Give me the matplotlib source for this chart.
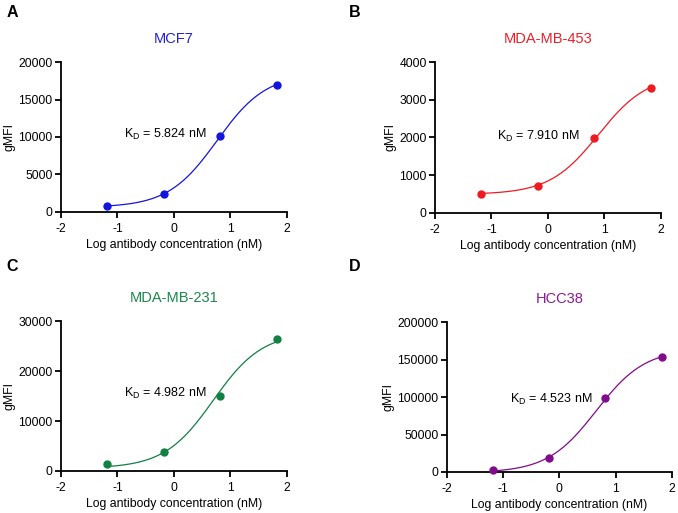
import numpy as np
import matplotlib
matplotlib.use("Agg")
import matplotlib.pyplot as plt

plt.rcParams['font.family'] = ['Liberation Sans', 'DejaVu Sans']
plt.rcParams['mathtext.default'] = 'regular'

# Data
log_conc = [-1.18, -0.18, 0.82, 1.82]
cell_lines = ["MCF7", "MDA-MB-453", "MDA-MB-231", "HCC38"]
panel_letters = ["A", "B", "C", "D"]
mcf7 = [800, 2400, 10100, 17000]
mdamb453 = [510, 720, 1980, 3310]
mdamb231 = [1300, 3700, 15000, 26500]
hcc38 = [2500, 18000, 99000, 153000]
kd_values = [5.824, 7.910, 4.982, 4.523]
y_max = [20000, 4000, 30000, 200000]
y_step = [5000, 1000, 10000, 50000]
x_ticks = [-2, -1, 0, 1, 2]

series = [mcf7, mdamb453, mdamb231, hcc38]
colors = ["#1414dc", "#ee1a22", "#118043", "#820a8c"]
title_colors = ["#2222d0", "#e8202a", "#1a8a4a", "#8a1a95"]

# axes rectangles [left, bottom, width, height]
rects = [
    [0.090, 0.587, 0.333, 0.292],
    [0.6416, 0.585, 0.333, 0.294],
    [0.090, 0.082, 0.333, 0.292],
    [0.659, 0.080, 0.332, 0.292],
]
kd_pos = [(-0.88, 10270), (-0.90, 2040), (-0.88, 15500), (-0.88, 96700)]

fig = plt.figure(figsize=(6.78, 5.13), dpi=100)

for i in range(4):
    ax = fig.add_axes(rects[i])
    x = np.array(log_conc)
    y = np.array(series[i], dtype=float)
    kd = kd_values[i]
    conc = 10 ** x
    # one-site binding with background: Y = B + Bmax*X/(KD+X)
    A = np.column_stack([np.ones_like(conc), conc / (kd + conc)])
    coef, *_ = np.linalg.lstsq(A, y, rcond=None)
    xf = np.linspace(x[0], x[-1], 300)
    cf = 10 ** xf
    yf = coef[0] + coef[1] * cf / (kd + cf)
    ax.plot(xf, yf, color=colors[i], lw=0.9)
    ax.plot(x, y, 'o', color=colors[i], ms=5, clip_on=False, zorder=5)

    ax.set_xlim(-2, 2)
    ax.set_ylim(0, y_max[i])
    ax.set_xticks(x_ticks)
    ax.set_xticklabels([str(t) for t in x_ticks])
    yt = np.arange(0, y_max[i] + 1, y_step[i])
    ax.set_yticks(yt)
    ax.set_yticklabels([str(int(v)) for v in yt])
    for s in ['top', 'right']:
        ax.spines[s].set_visible(False)
    for s in ['left', 'bottom']:
        ax.spines[s].set_linewidth(1.3)
    ax.tick_params(direction='out', length=4, width=1.3, labelsize=8.7, pad=2)
    ax.tick_params(axis='x', pad=4)
    ax.set_xlabel("Log antibody concentration (nM)", fontsize=8.8, labelpad=3)
    ax.set_ylabel("gMFI", fontsize=8.8, labelpad=2)
    ax.set_title(cell_lines[i], color=title_colors[i], fontsize=10.5, pad=14)
    ax.text(kd_pos[i][0], kd_pos[i][1], "K$_{D}$ = %.3f nM" % kd,
            fontsize=9, va='center', ha='left')

letter_pos = [(0.010, 0.975), (0.515, 0.975), (0.010, 0.48), (0.515, 0.48)]
for (lx, ly), L in zip(letter_pos, panel_letters):
    fig.text(lx, ly, L, fontsize=11.5, fontweight='bold', va='center', ha='left')

fig.savefig("out.png", dpi=100, facecolor='white')
